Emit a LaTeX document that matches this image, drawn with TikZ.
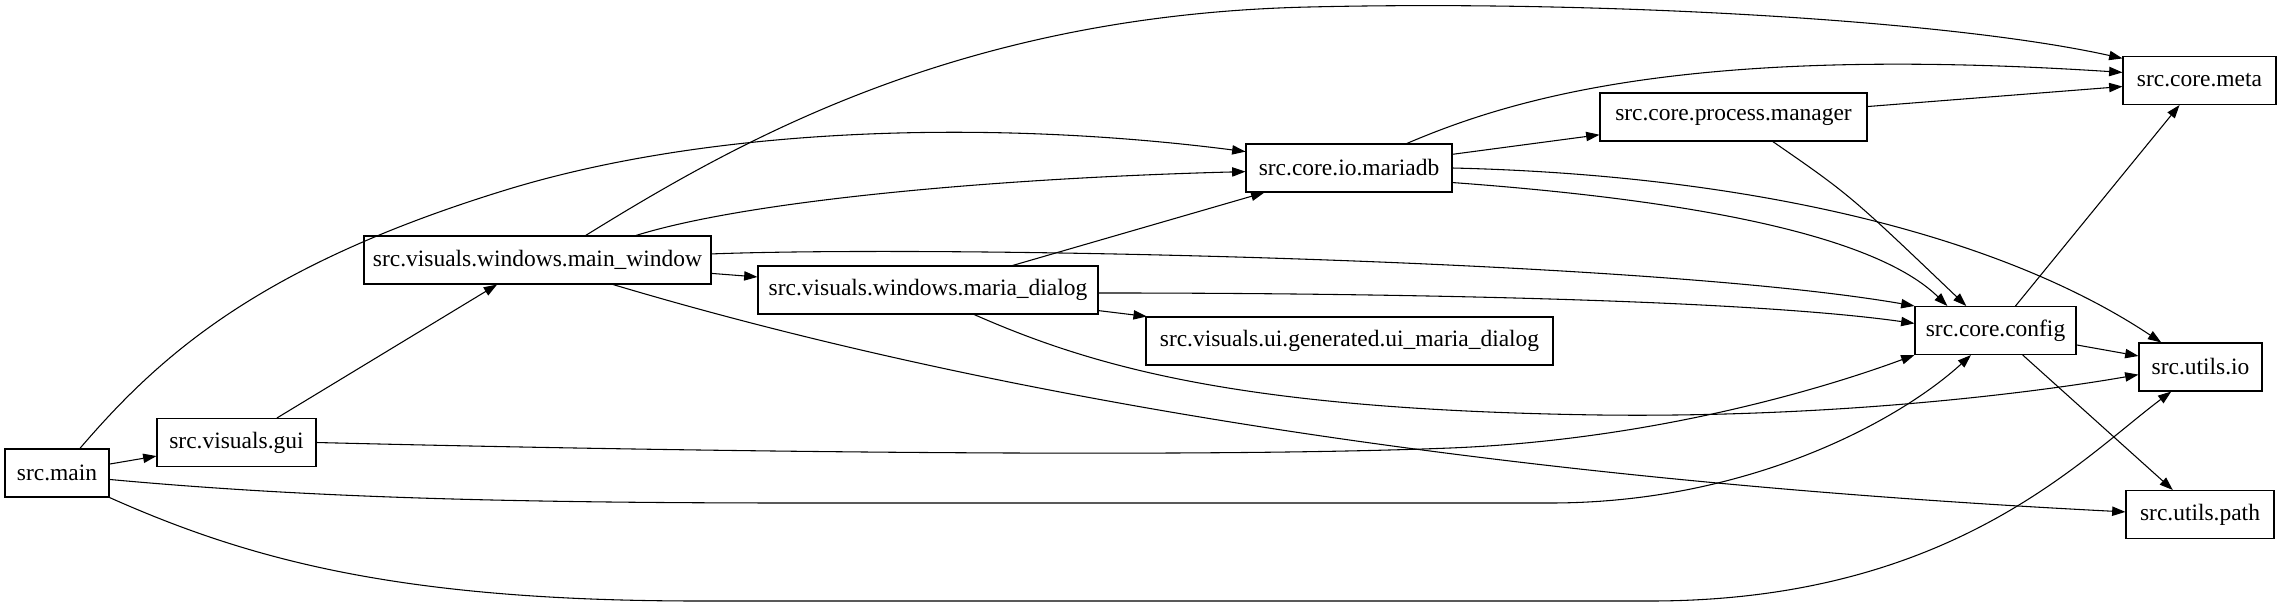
\documentclass[tikz,border=0pt]{standalone}
\usepackage{fontspec}
\setmainfont{Liberation Serif}
\usetikzlibrary{arrows.meta}
\begin{document}
\begin{tikzpicture}[x=0.75pt,y=-0.75pt,
  box/.style={draw=black,line width=0.8pt,rectangle,minimum height=36pt,inner sep=0pt,font=\fontsize{17.6}{20}\selectfont},
  edge/.style={-{Triangle[length=10pt,width=7pt]},line width=0.8pt}]
\useasboundingbox (0,0) rectangle (2281,611);
\node[box,minimum width=78pt]     (main) at (57,473) {src.main};
\node[box,minimum width=119.25pt] (gui) at (236.5,442.5) {src.visuals.gui};
\node[box,minimum width=260.25pt] (mw) at (537.5,260) {src.visuals.windows.main\_window};
\node[box,minimum width=255pt]    (md) at (928,290) {src.visuals.windows.maria\_dialog};
\node[box,minimum width=305.25pt] (ui) at (1349.5,341) {src.visuals.ui.generated.ui\_maria\_dialog};
\node[box,minimum width=154.5pt]  (mariadb) at (1349,168) {src.core.io.mariadb};
\node[box,minimum width=200.25pt] (pm) at (1733.5,117) {src.core.process.manager};
\node[box,minimum width=120.75pt] (config) at (1995.5,330.5) {src.core.config};
\node[box,minimum width=114.75pt] (meta) at (2199.5,80.5) {src.core.meta};
\node[box,minimum width=92.25pt]  (uio) at (2200.5,367) {src.utils.io};
\node[box,minimum width=111pt]    (upath) at (2200,514.5) {src.utils.path};

% straight edges
\draw[edge] (main) -- (gui);
\draw[edge] (gui) -- (mw);
\draw[edge] (mw) -- (md);
\draw[edge] (md) -- (ui);
\draw[edge] (md) -- (mariadb);
\draw[edge] (mariadb) -- (pm);
\draw[edge] (pm) -- (meta);
\draw[edge] (config) -- (meta);
\draw[edge] (config) -- (uio);
\draw[edge] (config) -- (upath);

% curved edges
\draw[edge] (main.47) .. controls (160,355) and (260,265) .. (509,189)
  .. controls (720,125) and (1000,120) .. (mariadb.171);
\draw[edge] (main.-7) .. controls (300,497) and (500,503) .. (800,503)
  -- (1550,503) .. controls (1750,503) and (1900,420) .. (config.225);
\draw[edge] (main.south east) .. controls (250,560) and (400,601) .. (700,601)
  -- (1650,601) .. controls (1950,601) and (2080,460) .. (uio.220);
\draw[edge] (gui.east) .. controls (700,452) and (1200,458) .. (1450,448)
  .. controls (1650,440) and (1820,390) .. (config.south west);
\draw[edge] (mw.27) .. controls (740,140) and (960,15) .. (1309,7)
  .. controls (1600,0) and (1950,20) .. (meta.164);
\draw[edge] (mw.14) .. controls (750,200) and (1000,178) .. (mariadb.182);
\draw[edge] (mw.2) .. controls (950,245) and (1650,260) .. (config.north west);
\draw[edge] (mw.-18) .. controls (1000,400) and (1500,480) .. (upath.178);
\draw[edge] (md.-1) .. controls (1400,293) and (1750,300) .. (config.175);
\draw[edge] (md.-28) .. controls (1100,370) and (1250,410) .. (1600,415)
  .. controls (1850,418) and (2050,390) .. (uio.187);
\draw[edge] (mariadb.23) .. controls (1520,95) and (1700,45) .. (meta.174);
\draw[edge] (mariadb.-8) .. controls (1760,205) and (1890,250) .. (config.153);
\draw[edge] (mariadb.east) .. controls (1750,175) and (2000,235) .. (uio.148);
\draw[edge] (pm.-32) .. controls (1850,195) .. (config.140);
\end{tikzpicture}
\end{document}
